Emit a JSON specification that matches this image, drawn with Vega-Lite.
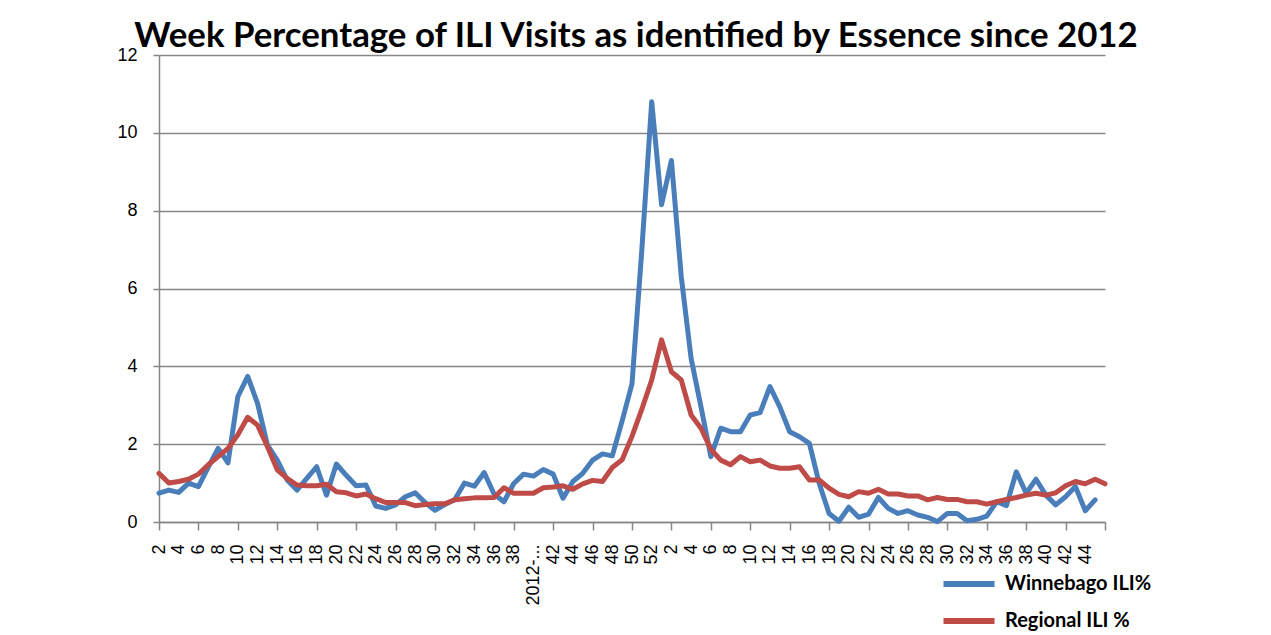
{
  "$schema": "https://vega.github.io/schema/vega-lite/v6.json",
  "autosize": {"type": "none"},
  "width": 946,
  "height": 467,
  "padding": {"left": 159, "top": 55, "right": 166, "bottom": 113},
  "background": "white",
  "title": {
    "text": "Week Percentage of ILI Visits as identified by Essence since 2012",
    "font": "Lato",
    "fontSize": 34.8,
    "fontWeight": "bold",
    "color": "black",
    "anchor": "middle",
    "frame": "group",
    "baseline": "alphabetic",
    "offset": -36,
    "dx": 4
  },
  "data": {
    "values": [
      {"key": "00|2", "Winnebago ILI%": 0.74, "Regional ILI %": 1.25},
      {"key": "01|3", "Winnebago ILI%": 0.82, "Regional ILI %": 1.0},
      {"key": "02|4", "Winnebago ILI%": 0.76, "Regional ILI %": 1.04},
      {"key": "03|5", "Winnebago ILI%": 1.0, "Regional ILI %": 1.1},
      {"key": "04|6", "Winnebago ILI%": 0.91, "Regional ILI %": 1.23},
      {"key": "05|7", "Winnebago ILI%": 1.41, "Regional ILI %": 1.47},
      {"key": "06|8", "Winnebago ILI%": 1.89, "Regional ILI %": 1.68},
      {"key": "07|9", "Winnebago ILI%": 1.52, "Regional ILI %": 1.89},
      {"key": "08|10", "Winnebago ILI%": 3.22, "Regional ILI %": 2.24},
      {"key": "09|11", "Winnebago ILI%": 3.74, "Regional ILI %": 2.69},
      {"key": "10|12", "Winnebago ILI%": 3.05, "Regional ILI %": 2.49},
      {"key": "11|13", "Winnebago ILI%": 1.98, "Regional ILI %": 1.94},
      {"key": "12|14", "Winnebago ILI%": 1.59, "Regional ILI %": 1.34},
      {"key": "13|15", "Winnebago ILI%": 1.08, "Regional ILI %": 1.12},
      {"key": "14|16", "Winnebago ILI%": 0.82, "Regional ILI %": 0.95},
      {"key": "15|17", "Winnebago ILI%": 1.12, "Regional ILI %": 0.93},
      {"key": "16|18", "Winnebago ILI%": 1.42, "Regional ILI %": 0.93},
      {"key": "17|19", "Winnebago ILI%": 0.69, "Regional ILI %": 0.97},
      {"key": "18|20", "Winnebago ILI%": 1.49, "Regional ILI %": 0.78},
      {"key": "19|21", "Winnebago ILI%": 1.2, "Regional ILI %": 0.75},
      {"key": "20|22", "Winnebago ILI%": 0.93, "Regional ILI %": 0.67},
      {"key": "21|23", "Winnebago ILI%": 0.95, "Regional ILI %": 0.72},
      {"key": "22|24", "Winnebago ILI%": 0.41, "Regional ILI %": 0.6},
      {"key": "23|25", "Winnebago ILI%": 0.35, "Regional ILI %": 0.5},
      {"key": "24|26", "Winnebago ILI%": 0.44, "Regional ILI %": 0.5},
      {"key": "25|27", "Winnebago ILI%": 0.65, "Regional ILI %": 0.5},
      {"key": "26|28", "Winnebago ILI%": 0.75, "Regional ILI %": 0.42},
      {"key": "27|29", "Winnebago ILI%": 0.5, "Regional ILI %": 0.45},
      {"key": "28|30", "Winnebago ILI%": 0.3, "Regional ILI %": 0.47},
      {"key": "29|31", "Winnebago ILI%": 0.45, "Regional ILI %": 0.47},
      {"key": "30|32", "Winnebago ILI%": 0.57, "Regional ILI %": 0.57},
      {"key": "31|33", "Winnebago ILI%": 1.0, "Regional ILI %": 0.6},
      {"key": "32|34", "Winnebago ILI%": 0.92, "Regional ILI %": 0.62},
      {"key": "33|35", "Winnebago ILI%": 1.27, "Regional ILI %": 0.62},
      {"key": "34|36", "Winnebago ILI%": 0.72, "Regional ILI %": 0.63},
      {"key": "35|37", "Winnebago ILI%": 0.52, "Regional ILI %": 0.88},
      {"key": "36|38", "Winnebago ILI%": 0.99, "Regional ILI %": 0.74},
      {"key": "37|39", "Winnebago ILI%": 1.23, "Regional ILI %": 0.74},
      {"key": "38|2012-...", "Winnebago ILI%": 1.18, "Regional ILI %": 0.74},
      {"key": "39|41", "Winnebago ILI%": 1.35, "Regional ILI %": 0.88},
      {"key": "40|42", "Winnebago ILI%": 1.23, "Regional ILI %": 0.9},
      {"key": "41|43", "Winnebago ILI%": 0.61, "Regional ILI %": 0.93},
      {"key": "42|44", "Winnebago ILI%": 1.04, "Regional ILI %": 0.84},
      {"key": "43|45", "Winnebago ILI%": 1.25, "Regional ILI %": 0.98},
      {"key": "44|46", "Winnebago ILI%": 1.59, "Regional ILI %": 1.07},
      {"key": "45|47", "Winnebago ILI%": 1.75, "Regional ILI %": 1.04},
      {"key": "46|48", "Winnebago ILI%": 1.7, "Regional ILI %": 1.4},
      {"key": "47|49", "Winnebago ILI%": 2.6, "Regional ILI %": 1.6},
      {"key": "48|50", "Winnebago ILI%": 3.55, "Regional ILI %": 2.2},
      {"key": "49|51", "Winnebago ILI%": 7.0, "Regional ILI %": 2.9},
      {"key": "50|52", "Winnebago ILI%": 10.8, "Regional ILI %": 3.65},
      {"key": "51|1", "Winnebago ILI%": 8.15, "Regional ILI %": 4.68},
      {"key": "52|2", "Winnebago ILI%": 9.29, "Regional ILI %": 3.86},
      {"key": "53|3", "Winnebago ILI%": 6.3, "Regional ILI %": 3.65},
      {"key": "54|4", "Winnebago ILI%": 4.2, "Regional ILI %": 2.75},
      {"key": "55|5", "Winnebago ILI%": 2.96, "Regional ILI %": 2.41},
      {"key": "56|6", "Winnebago ILI%": 1.68, "Regional ILI %": 1.87},
      {"key": "57|7", "Winnebago ILI%": 2.41, "Regional ILI %": 1.59},
      {"key": "58|8", "Winnebago ILI%": 2.32, "Regional ILI %": 1.47},
      {"key": "59|9", "Winnebago ILI%": 2.32, "Regional ILI %": 1.68},
      {"key": "60|10", "Winnebago ILI%": 2.75, "Regional ILI %": 1.55},
      {"key": "61|11", "Winnebago ILI%": 2.81, "Regional ILI %": 1.59},
      {"key": "62|12", "Winnebago ILI%": 3.48, "Regional ILI %": 1.44},
      {"key": "63|13", "Winnebago ILI%": 2.96, "Regional ILI %": 1.38},
      {"key": "64|14", "Winnebago ILI%": 2.32, "Regional ILI %": 1.38},
      {"key": "65|15", "Winnebago ILI%": 2.19, "Regional ILI %": 1.42},
      {"key": "66|16", "Winnebago ILI%": 2.02, "Regional ILI %": 1.08},
      {"key": "67|17", "Winnebago ILI%": 0.99, "Regional ILI %": 1.08},
      {"key": "68|18", "Winnebago ILI%": 0.22, "Regional ILI %": 0.87},
      {"key": "69|19", "Winnebago ILI%": 0.02, "Regional ILI %": 0.71},
      {"key": "70|20", "Winnebago ILI%": 0.38, "Regional ILI %": 0.65},
      {"key": "71|21", "Winnebago ILI%": 0.12, "Regional ILI %": 0.78},
      {"key": "72|22", "Winnebago ILI%": 0.2, "Regional ILI %": 0.74},
      {"key": "73|23", "Winnebago ILI%": 0.63, "Regional ILI %": 0.84},
      {"key": "74|24", "Winnebago ILI%": 0.35, "Regional ILI %": 0.72},
      {"key": "75|25", "Winnebago ILI%": 0.22, "Regional ILI %": 0.72},
      {"key": "76|26", "Winnebago ILI%": 0.29, "Regional ILI %": 0.67},
      {"key": "77|27", "Winnebago ILI%": 0.18, "Regional ILI %": 0.67},
      {"key": "78|28", "Winnebago ILI%": 0.12, "Regional ILI %": 0.57},
      {"key": "79|29", "Winnebago ILI%": 0.01, "Regional ILI %": 0.63},
      {"key": "80|30", "Winnebago ILI%": 0.22, "Regional ILI %": 0.58},
      {"key": "81|31", "Winnebago ILI%": 0.22, "Regional ILI %": 0.58},
      {"key": "82|32", "Winnebago ILI%": 0.03, "Regional ILI %": 0.52},
      {"key": "83|33", "Winnebago ILI%": 0.07, "Regional ILI %": 0.52},
      {"key": "84|34", "Winnebago ILI%": 0.15, "Regional ILI %": 0.46},
      {"key": "85|35", "Winnebago ILI%": 0.52, "Regional ILI %": 0.52},
      {"key": "86|36", "Winnebago ILI%": 0.42, "Regional ILI %": 0.58},
      {"key": "87|37", "Winnebago ILI%": 1.29, "Regional ILI %": 0.63},
      {"key": "88|38", "Winnebago ILI%": 0.74, "Regional ILI %": 0.69},
      {"key": "89|39", "Winnebago ILI%": 1.1, "Regional ILI %": 0.74},
      {"key": "90|40", "Winnebago ILI%": 0.69, "Regional ILI %": 0.69},
      {"key": "91|41", "Winnebago ILI%": 0.44, "Regional ILI %": 0.75},
      {"key": "92|42", "Winnebago ILI%": 0.65, "Regional ILI %": 0.93},
      {"key": "93|43", "Winnebago ILI%": 0.91, "Regional ILI %": 1.04},
      {"key": "94|44", "Winnebago ILI%": 0.29, "Regional ILI %": 0.98},
      {"key": "95|45", "Winnebago ILI%": 0.57, "Regional ILI %": 1.1},
      {"key": "96|", "Winnebago ILI%": null, "Regional ILI %": 0.98}
    ]
  },
  "transform": [
    {"fold": ["Winnebago ILI%", "Regional ILI %"], "as": ["series", "value"]}
  ],
  "mark": {"type": "line", "strokeWidth": 5, "strokeJoin": "round", "strokeCap": "round"},
  "encoding": {
    "x": {
      "field": "key",
      "type": "ordinal",
      "sort": null,
      "scale": {"type": "point", "padding": 0},
      "axis": {
        "title": null,
        "values": ["00|2","02|4","04|6","06|8","08|10","10|12","12|14","14|16","16|18","18|20","20|22","22|24","24|26","26|28","28|30","30|32","32|34","34|36","36|38","38|2012-...","40|42","42|44","44|46","46|48","48|50","50|52","52|2","54|4","56|6","58|8","60|10","62|12","64|14","66|16","68|18","70|20","72|22","74|24","76|26","78|28","80|30","82|32","84|34","86|36","88|38","90|40","92|42","94|44","96|"],
        "labelExpr": "split(datum.value, '|')[1]",
        "labelAngle": 270,
        "labelFont": "Liberation Sans",
        "labelFontSize": 18,
        "labelColor": "black",
        "labelPadding": 14,
        "labelOverlap": false,
        "labelBound": false,
        "tickSize": 8,
        "tickWidth": 1.5,
        "tickColor": "#868686",
        "tickOpacity": {"condition": {"test": "toNumber(split(datum.value, '|')[0]) % 4 == 0", "value": 1}, "value": 0},
        "domainColor": "#868686",
        "domainWidth": 1.5,
        "grid": false
      }
    },
    "y": {
      "field": "value",
      "type": "quantitative",
      "scale": {"domain": [0, 12], "nice": false, "zero": true},
      "axis": {
        "title": null,
        "values": [0, 2, 4, 6, 8, 10, 12],
        "labelFont": "Liberation Sans",
        "labelFontSize": 18,
        "labelColor": "black",
        "labelPadding": 16,
        "tickSize": 6,
        "tickWidth": 1.5,
        "tickColor": "#868686",
        "domainColor": "#868686",
        "domainWidth": 1.5,
        "grid": true,
        "gridColor": "#868686",
        "gridWidth": 1.5
      }
    },
    "color": {
      "field": "series",
      "type": "nominal",
      "sort": ["Winnebago ILI%", "Regional ILI %"],
      "scale": {"domain": ["Winnebago ILI%", "Regional ILI %"], "range": ["#4A7EBB", "#BE4B48"]},
      "legend": {
        "title": null,
        "orient": "none",
        "legendX": 792,
        "legendY": 511,
        "symbolType": "M-1.7,0H1.7",
        "symbolSize": 900,
        "symbolStrokeWidth": 6,
        "labelFont": "Lato",
        "labelFontSize": 20,
        "labelFontWeight": "bold",
        "labelColor": "black",
        "labelOffset": 18,
        "rowPadding": 7,
        "padding": 0,
        "labelLimit": 300
      }
    }
  },
  "config": {
    "view": {"stroke": null}
  }
}
